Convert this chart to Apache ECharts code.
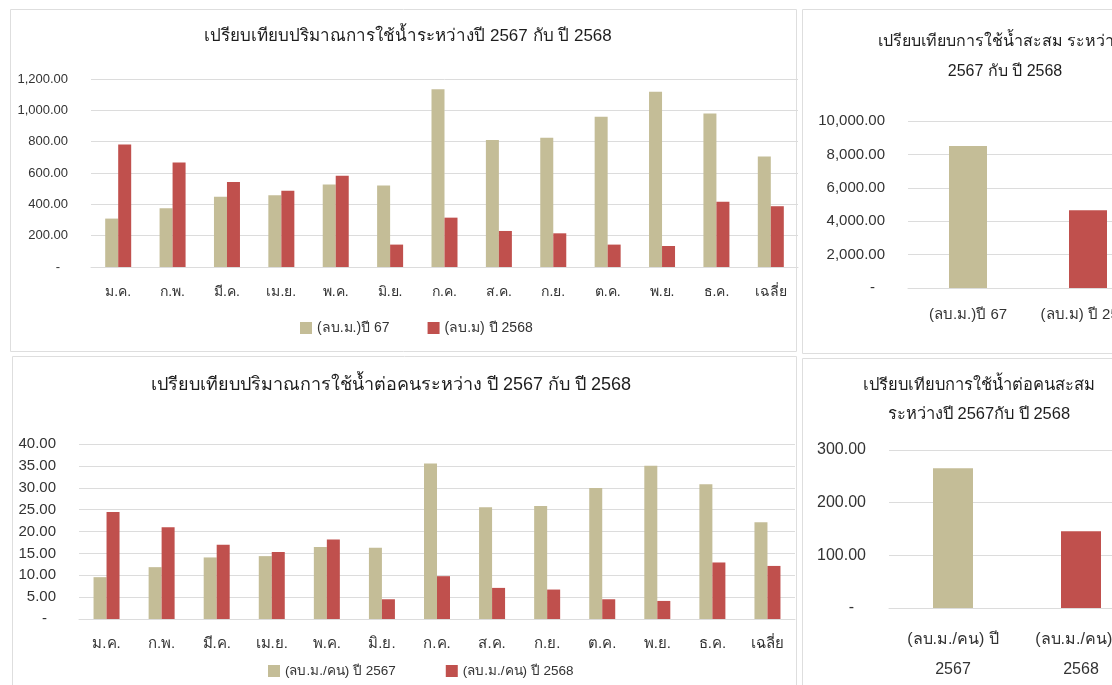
<!DOCTYPE html>
<html><head><meta charset="utf-8">
<script src="https://cdn.jsdelivr.net/npm/echarts@6/dist/echarts.min.js"></script>
<style>html,body{margin:0;padding:0;background:#fff;overflow:hidden;width:1112px;height:685px}#c{width:1300px;height:685px}</style>
</head><body><div id="c"></div>
<script>
// ---- data ----
const months = ['ม.ค.','ก.พ.','มี.ค.','เม.ย.','พ.ค.','มิ.ย.','ก.ค.','ส.ค.','ก.ย.','ต.ค.','พ.ย.','ธ.ค.','เฉลี่ย'];
const use67 = [309,375,448,458,526,520,1134,810,825,959,1119,980,705];
const use68 = [782,667,543,486,582,143,315,230,215,143,134,416,388];
const totalCats = ['(ลบ.ม.)ปี 67','(ลบ.ม) ปี 2568'];
const totalVals = [8510,4650];
const perCap67 = [9.56,11.85,14.07,14.37,16.44,16.28,35.55,25.54,25.84,29.97,35.02,30.81,22.10];
const perCap68 = [24.47,20.95,16.97,15.29,18.20,4.51,9.79,7.11,6.73,4.51,4.13,12.92,12.13];
const perCapCats = ['(ลบ.ม./คน) ปี 2567','(ลบ.ม./คน) ปี 2568'];
const perCapTotals = [265.5,145.6];
const seriesNames = ['(ลบ.ม.)ปี 67','(ลบ.ม) ปี 2568','(ลบ.ม./คน) ปี 2567','(ลบ.ม./คน) ปี 2568'];
const yTicks = {tl:[0,1200,200], tr:[0,10000,2000], bl:[0,40,5], br:[0,300,100]};

// ---- style ----
const C67 = '#C4BD97', C68 = '#C0504D';
const FONT = 'Arial, "Liberation Sans", "Noto Sans", sans-serif';
const TXT = '#333';
const GRID = '#dcdcdc';

function fmt(v){ return v === 0 ? '{z|-}' : v.toLocaleString('en-US',{minimumFractionDigits:2, maximumFractionDigits:2}); }

function yAx(idx, key, size, zpad){
  return {gridIndex: idx, type:'value', min:yTicks[key][0], max:yTicks[key][1], interval:yTicks[key][2],
    axisLine:{show:false}, axisTick:{show:false},
    splitLine:{lineStyle:{color:GRID, width:1}},
    axisLabel:{formatter:fmt, color:TXT, fontFamily:FONT, fontSize:size, margin:23,
      rich:{z:{padding:[0,zpad,0,0], color:TXT, fontFamily:FONT, fontSize:size}}}};
}
function xAx(idx, data, size, margin, extra){
  return Object.assign({gridIndex: idx, type:'category', data:data,
    axisLine:{lineStyle:{color:GRID}}, axisTick:{show:false},
    axisLabel:{color:TXT, fontFamily:FONT, fontSize:size, margin:margin, interval:0}}, extra||{});
}

const chart = echarts.init(document.getElementById('c'));
chart.setOption({
  animation:false,
  backgroundColor:'#fff',
  graphic:[
    {type:'rect', shape:{x:10.5,y:9.5,width:786,height:342}, style:{fill:'none', stroke:'#dedede', lineWidth:1}},
    {type:'rect', shape:{x:802.5,y:9.5,width:400,height:344}, style:{fill:'none', stroke:'#dedede', lineWidth:1}},
    {type:'rect', shape:{x:12.5,y:356.5,width:784,height:400}, style:{fill:'none', stroke:'#dedede', lineWidth:1}},
    {type:'rect', shape:{x:802.5,y:358.5,width:400,height:400}, style:{fill:'none', stroke:'#dedede', lineWidth:1}}
  ],
  title:[
    {text:'เปรียบเทียบปริมาณการใช้น้ำระหว่างปี 2567 กับ ปี 2568', left:403, top:23, textAlign:'center',
      textStyle:{fontFamily:FONT, fontSize:17, fontWeight:'normal', color:'#1e1e1e'}},
    {text:'เปรียบเทียบการใช้น้ำสะสม ระหว่างปี\n2567 กับ ปี 2568', left:1000, top:22, textAlign:'center',
      textStyle:{fontFamily:FONT, fontSize:16, fontWeight:'normal', color:'#1e1e1e', lineHeight:30}},
    {text:'เปรียบเทียบปริมาณการใช้น้ำต่อคนระหว่าง ปี 2567 กับ ปี 2568', left:386, top:371, textAlign:'center',
      textStyle:{fontFamily:FONT, fontSize:18, fontWeight:'normal', color:'#1e1e1e'}},
    {text:'เปรียบเทียบการใช้น้ำต่อคนสะสม\nระหว่างปี 2567กับ ปี 2568', left:974, top:366, textAlign:'center',
      textStyle:{fontFamily:FONT, fontSize:16.5, fontWeight:'normal', color:'#1e1e1e', lineHeight:29}}
  ],
  legend:[
    {data:[seriesNames[0], seriesNames[1]], left:295, top:316, icon:'rect', itemWidth:12, itemHeight:12, itemGap:38,
      textStyle:{fontFamily:FONT, fontSize:14, color:TXT}},
    {data:[seriesNames[2], seriesNames[3]], left:263, top:659, icon:'rect', itemWidth:12, itemHeight:12, itemGap:50,
      textStyle:{fontFamily:FONT, fontSize:13.5, color:TXT}}
  ],
  grid:[
    {left:91, top:79, width:707, height:188},
    {left:908, top:121, width:240, height:167},
    {left:79, top:444, width:716, height:175},
    {left:889, top:450, width:256, height:159}
  ],
  xAxis:[
    xAx(0, months, 14, 18),
    xAx(1, totalCats, 15, 19),
    xAx(2, months, 15, 17),
    xAx(3, perCapCats, 16, 18, {axisLabel:{color:TXT, fontFamily:FONT, fontSize:16, margin:17, interval:0, lineHeight:30,
      formatter:function(v){ const i=v.lastIndexOf(' '); return v.slice(0,i)+'\n'+v.slice(i+1); }}})
  ],
  yAxis:[
    yAx(0,'tl',13,8),
    yAx(1,'tr',15,10),
    yAx(2,'bl',15,9),
    yAx(3,'br',16,12)
  ],
  series:[
    {name:seriesNames[0], type:'bar', xAxisIndex:0, yAxisIndex:0, data:use67, barWidth:13, barGap:'0%', itemStyle:{color:C67}},
    {name:seriesNames[1], type:'bar', xAxisIndex:0, yAxisIndex:0, data:use68, barWidth:13, barGap:'0%', itemStyle:{color:C68}},
    {type:'bar', xAxisIndex:1, yAxisIndex:1, barWidth:38,
      data:totalVals.map((v,i)=>({value:v, itemStyle:{color:i===0?C67:C68}}))},
    {name:seriesNames[2], type:'bar', xAxisIndex:2, yAxisIndex:2, data:perCap67, barWidth:13, barGap:'0%', itemStyle:{color:C67}},
    {name:seriesNames[3], type:'bar', xAxisIndex:2, yAxisIndex:2, data:perCap68, barWidth:13, barGap:'0%', itemStyle:{color:C68}},
    {type:'bar', xAxisIndex:3, yAxisIndex:3, barWidth:40,
      data:perCapTotals.map((v,i)=>({value:v, itemStyle:{color:i===0?C67:C68}}))}
  ]
});
</script></body></html>
